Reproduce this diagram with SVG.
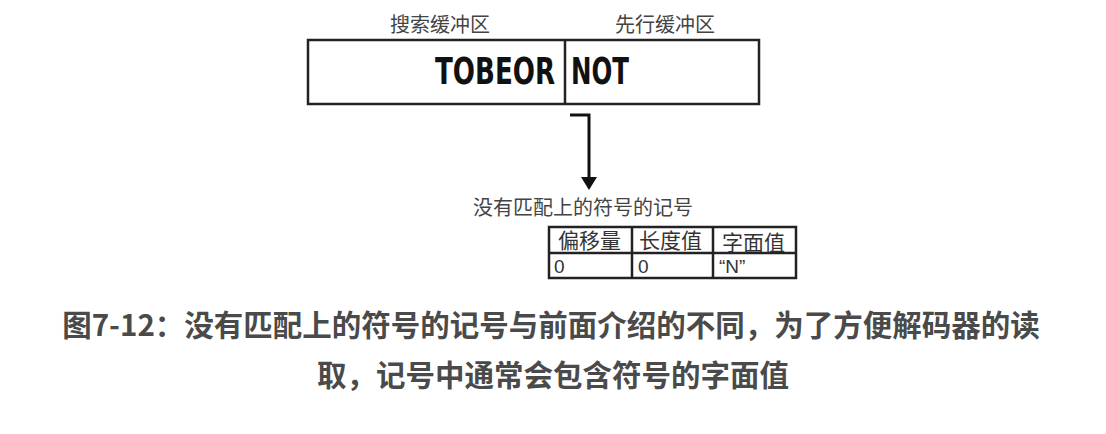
<svg xmlns="http://www.w3.org/2000/svg" width="1106" height="434" viewBox="0 0 1106 434">
<style>
.cjk{font-family:"Noto Sans CJK SC","Noto Sans",sans-serif;}
.lbl{font-size:20px;fill:#444;}
.big{font-family:"DejaVu Sans Condensed","DejaVu Sans",sans-serif;font-weight:bold;font-size:29px;fill:#111;}
.box{fill:#fff;stroke:#222;stroke-width:2.5;}
.cell{fill:#fff;stroke:#222;stroke-width:2.5;}
.th{font-size:21px;fill:#333;}
.td{font-family:"Liberation Sans",Arial,sans-serif;font-size:19px;fill:#333;}
.cap{font-size:29.5px;font-weight:bold;fill:#4a4a4a;}
</style>
<rect width="1106" height="434" fill="#fff"/>
<g id="buffer">
<text class="cjk lbl" x="440" y="32" text-anchor="middle">搜索缓冲区</text>
<text class="cjk lbl" x="665" y="32" text-anchor="middle">先行缓冲区</text>
<rect class="box" x="308" y="40" width="451" height="64"/>
<line x1="565" y1="40" x2="565" y2="104" stroke="#222" stroke-width="2.5"/>
<text class="big" transform="translate(435,84) scale(1,1.27)" x="0" y="0" textLength="120" lengthAdjust="spacingAndGlyphs">TOBEOR</text>
<text class="big" transform="translate(571,84) scale(1,1.27)" x="0" y="0" textLength="58" lengthAdjust="spacingAndGlyphs">NOT</text>
</g>
<g id="connectors">
<path d="M570,115 L589,115 L589,178" fill="none" stroke="#111" stroke-width="3"/>
<path d="M581,177 L597,177 L589,190 z" fill="#111"/>
</g>
<g id="token">
<text class="cjk lbl" x="473" y="215">没有匹配上的符号的记号</text>
<rect class="cell" x="549" y="227" width="247" height="51"/>
<line x1="549" y1="253" x2="796" y2="253" stroke="#222" stroke-width="2.5"/>
<line x1="632" y1="227" x2="632" y2="278" stroke="#222" stroke-width="2.5"/>
<line x1="713" y1="227" x2="713" y2="278" stroke="#222" stroke-width="2.5"/>
<text class="cjk th" x="558" y="248">偏移量</text>
<text class="cjk th" x="639" y="248">长度值</text>
<text class="cjk th" x="722" y="250">字面值</text>
<text class="td" x="554" y="273">0</text>
<text class="td" x="638" y="273">0</text>
<text class="td" x="719" y="273">“N”</text>
</g>
<g id="caption">
<text class="cjk cap" x="551" y="336" text-anchor="middle">图7-12：没有匹配上的符号的记号与前面介绍的不同，为了方便解码器的读</text>
<text class="cjk cap" x="553" y="386" text-anchor="middle">取，记号中通常会包含符号的字面值</text>
</g>
</svg>
